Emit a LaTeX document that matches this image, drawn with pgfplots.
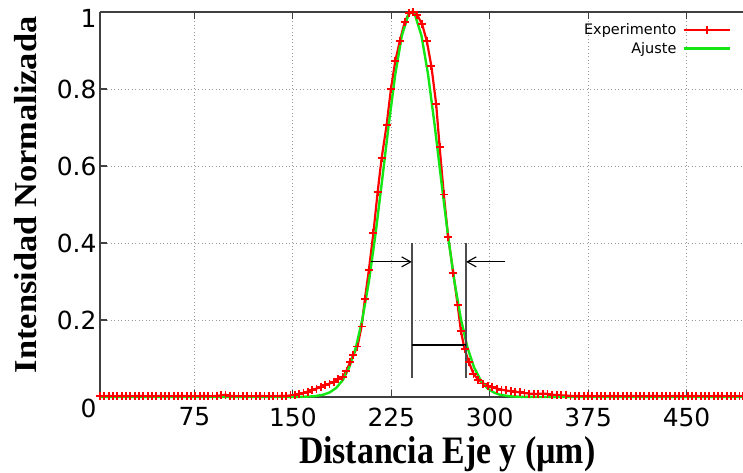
\documentclass[border=0pt]{standalone}
\usepackage{pgfplots}
\pgfplotsset{compat=1.18}
\usetikzlibrary{arrows.meta}
\usepackage{fontspec}
\setmainfont{DejaVu Sans}
\newfontfamily\labelfont{Liberation Serif}
\definecolor{expred}{RGB}{255,0,0}
\definecolor{fitgreen}{RGB}{20,230,20}
\definecolor{axgray}{RGB}{64,64,64}
\pgfplotstableread{
x y
3.0 0.002
6.3 0.002
9.6 0.003
12.9 0.002
16.2 0.002
19.5 0.003
22.8 0.002
26.1 0.002
29.4 0.002
32.7 0.003
36.0 0.002
39.3 0.002
42.6 0.002
45.9 0.002
49.2 0.003
52.5 0.002
55.8 0.002
59.1 0.002
62.4 0.002
65.7 0.003
69.0 0.002
72.3 0.002
75.6 0.002
78.9 0.002
82.2 0.003
85.5 0.002
88.8 0.002
92.1 0.003
95.4 0.004
98.7 0.006
102.0 0.003
105.3 0.002
108.6 0.002
111.9 0.002
115.2 0.002
118.5 0.002
121.8 0.002
125.1 0.003
128.4 0.002
131.7 0.002
135.0 0.002
138.3 0.002
141.6 0.003
144.9 0.003
148.2 0.004
151.5 0.006
154.8 0.008
158.1 0.011
161.4 0.014
164.7 0.018
168.0 0.022
171.3 0.027
174.6 0.031
177.9 0.035
181.2 0.040
184.5 0.046
187.8 0.052
190.8 0.068
193.5 0.090
196.0 0.109
199.2 0.131
202.3 0.183
204.9 0.255
207.9 0.330
211.3 0.425
214.6 0.533
217.6 0.620
221.4 0.706
224.7 0.800
228.0 0.872
231.5 0.925
235.3 0.975
238.5 0.997
241.5 1.000
244.8 0.992
248.5 0.968
252.0 0.925
255.5 0.860
259.2 0.760
261.8 0.650
265.0 0.526
268.3 0.416
272.2 0.323
275.5 0.240
278.0 0.172
280.8 0.125
284.1 0.091
287.6 0.060
291.2 0.045
295.0 0.035
298.5 0.029
302.0 0.025
305.5 0.022
309.0 0.019
312.5 0.017
316.0 0.015
319.5 0.014
323.0 0.012
326.5 0.010
330.0 0.009
333.5 0.008
337.0 0.008
340.5 0.009
344.0 0.008
347.5 0.006
351.0 0.005
354.5 0.004
358.0 0.004
361.5 0.003
365.0 0.003
368.3 0.002
371.6 0.002
374.9 0.003
378.2 0.002
381.5 0.002
384.8 0.002
388.1 0.002
391.4 0.003
394.7 0.002
398.0 0.002
401.3 0.002
404.6 0.002
407.9 0.003
411.2 0.002
414.5 0.002
417.8 0.002
421.1 0.002
424.4 0.003
427.7 0.002
431.0 0.002
434.3 0.002
437.6 0.002
440.9 0.003
444.2 0.002
447.5 0.002
450.8 0.002
454.1 0.002
457.4 0.003
460.7 0.002
464.0 0.002
467.3 0.002
470.6 0.002
473.9 0.003
477.2 0.002
480.5 0.002
483.8 0.002
487.1 0.002
490.4 0.002
493.0 0.002
}\expdata
\pgfplotstableread{
x y
3.0 0.0
140.0 0.0
155.5 0.0003
165.5 0.0017
173.0 0.0057
178.0 0.0119
183.0 0.0235
188.0 0.0439
193.0 0.0774
198.0 0.1290
203.0 0.2030
208.0 0.3019
213.0 0.4243
218.0 0.5633
223.0 0.7067
228.0 0.8377
233.0 0.9382
238.0 0.9929
240.5 1.0000
243.0 0.9929
248.0 0.9382
253.0 0.8377
258.0 0.7067
263.0 0.5633
268.0 0.4243
273.0 0.3019
278.0 0.2030
283.0 0.1290
288.0 0.0774
293.0 0.0439
298.0 0.0235
303.0 0.0119
308.0 0.0057
315.5 0.0017
325.5 0.0003
340.0 0.0
493.0 0.0
}\fitdata
\begin{document}
\begin{tikzpicture}
\begin{axis}[
  scale only axis,
  width=643bp, height=385bp,
  xmin=3, xmax=493, ymin=0, ymax=1,
  clip=false,
  axis x line*=box, axis y line*=left,
  axis line style={axgray, line width=1.1bp},
  xtick={75,150,225,300,375,450},
  xticklabels={75,150,225,300,375,450},
  ytick={0,0.2,0.4,0.6,0.8,1},
  yticklabels={{\smash{\raisebox{-20bp}{0}}},0.2,0.4,0.6,0.8,{\smash{\raisebox{-16bp}{1}}}},
  xtick pos=both, ytick pos=left,
  xticklabel pos=lower,
  tick align=inside,
  major tick length=7bp,
  tick style={axgray, line width=1.1bp},
  /pgf/number format/assume math mode=true,
  tick label style={font=\fontsize{25}{27}\selectfont, black},
  xticklabel style={yshift=-7bp},
  grid=major,
  grid style={gray!80, line width=0.9bp, dash pattern=on 1bp off 2.5bp},
  xlabel={\scalebox{0.87}[1]{Distancia Eje y (µm)}},
  ylabel={\scalebox{1.08}[1]{Intensidad Normalizada}},
  xlabel style={font=\labelfont\bfseries\fontsize{39}{41}\selectfont,
    at={(axis description cs:0.54,0)}, anchor=base, yshift=-66bp},
  ylabel style={font=\labelfont\bfseries\fontsize{32}{34}\selectfont,
    at={(axis description cs:-0.1151,0.525)}, anchor=center},
  legend plot pos=right,
  legend cell align=right,
  legend style={at={(axis description cs:0.986,0.98)}, anchor=north east,
    draw=none, fill=none, font=\fontsize{14.5}{16}\selectfont,
    row sep=2bp, column sep=4bp},
  legend image code/.code={\draw[mark repeat=2,mark phase=2,#1] plot coordinates {(0bp,0bp) (23bp,0bp) (46bp,0bp)};},
]
\addplot[expred, line width=2.2bp, mark=+, mark size=4bp, mark options={line width=1.8bp}] table[x=x,y=y] {\expdata};
\addlegendentry{Experimento}
\addplot[fitgreen, line width=2.4bp, no marks] table[x=x,y=y] {\fitdata};
\addlegendentry{Ajuste}
\draw[gray!60!black, line width=1.5bp] (axis cs:240.6,0.049) -- (axis cs:240.6,0.401);
\draw[gray!60!black, line width=1.5bp] (axis cs:282.0,0.049) -- (axis cs:282.0,0.401);
\draw[black, line width=1.1bp] (axis cs:240.6,0.135) -- (axis cs:282.0,0.135);
\draw[black, line width=1.1bp, -{Straight Barb[length=9bp,width=10bp]}] (axis cs:209.2,0.351) -- (axis cs:240.6,0.351);
\draw[black, line width=1.1bp, -{Straight Barb[length=9bp,width=10bp]}] (axis cs:312.0,0.351) -- (axis cs:282.0,0.351);
\coordinate (sw) at (rel axis cs:0,0);
\coordinate (ne) at (rel axis cs:1,1);
\end{axis}
\path (sw) ++(-100bp,-75bp) coordinate (bbA);
\path (ne) ++(0bp,12bp) coordinate (bbB);
\pgfresetboundingbox
\useasboundingbox (bbA) rectangle (bbB);
\end{tikzpicture}
\end{document}
